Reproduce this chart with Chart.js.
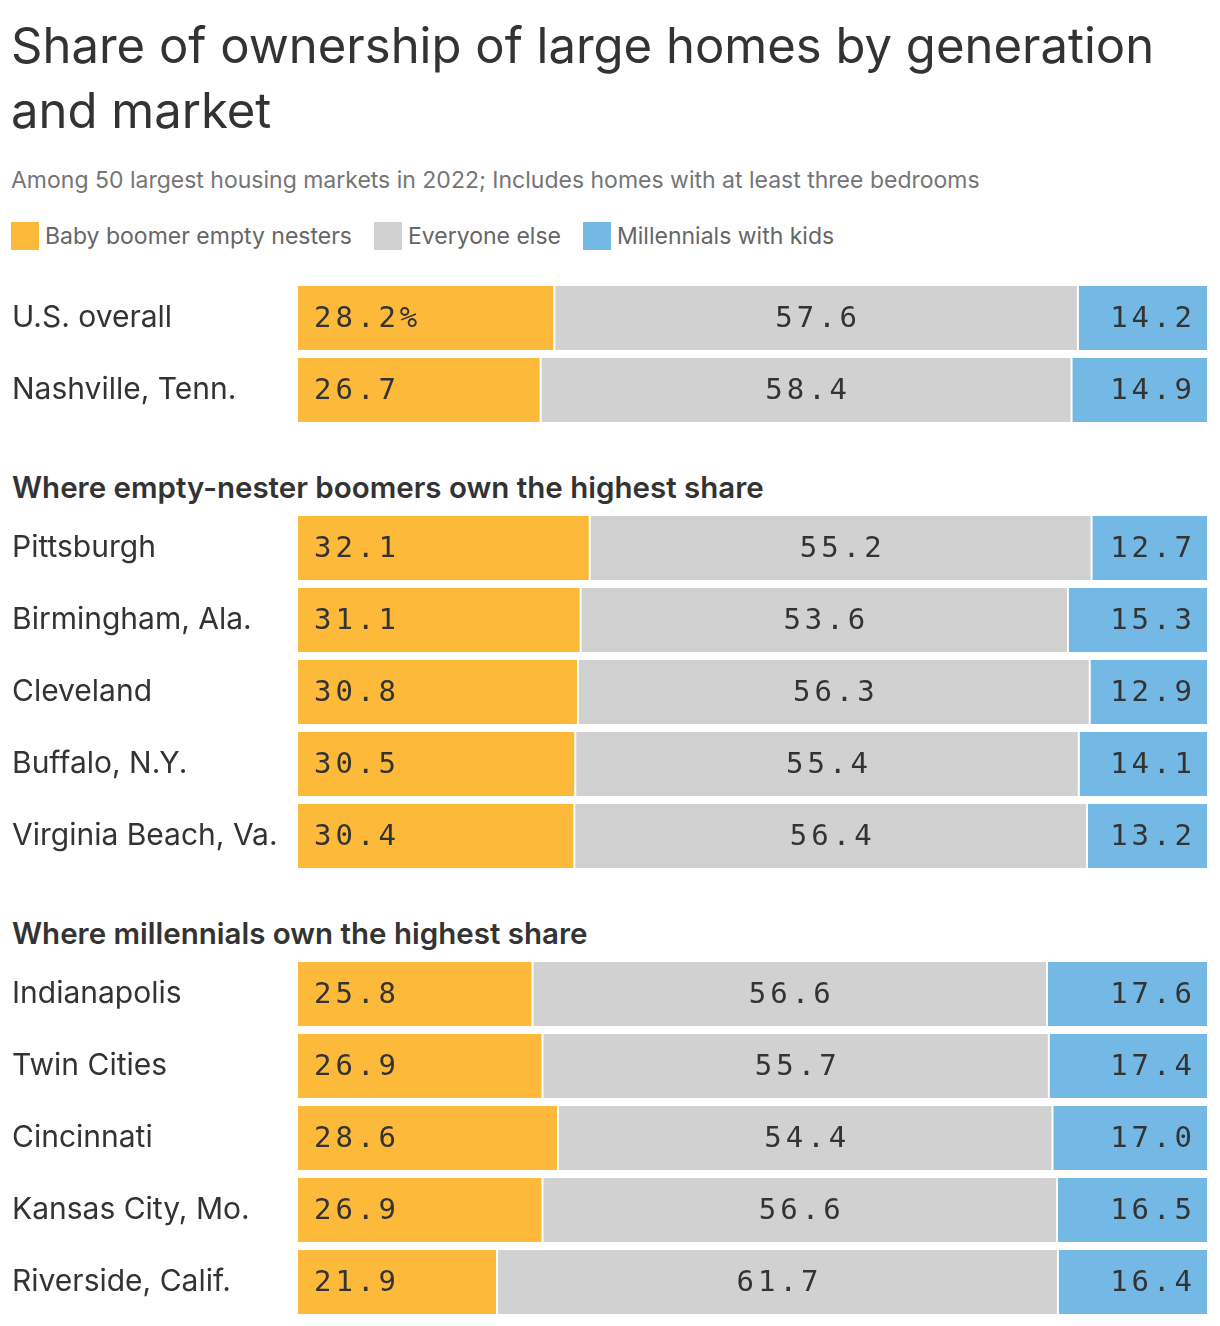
<!DOCTYPE html>
<html>
<head>
<meta charset="utf-8">
<script src="https://cdn.jsdelivr.net/npm/chart.js@4.4.0/dist/chart.umd.min.js"></script>
<style>
  body { margin: 0; background: #fff; font-family: Inter, "Liberation Sans", Arial, sans-serif; color: #333; }
  #page { position: relative; width: 1220px; height: 1326px; overflow: hidden; }
  h1 { position: absolute; left: 11px; top: 13px; margin: 0; width: 1190px; font-size: 49px; line-height: 65px; font-weight: normal; color: #333; }
  .sub { position: absolute; left: 11px; top: 166px; font-size: 23px; color: #757575; }
  .legend { position: absolute; left: 11px; top: 222px; display: flex; align-items: center; font-size: 23px; color: #666; }
  .legend span.sw { display: inline-block; width: 28px; height: 28px; margin-right: 6px; }
  .legend span.lb { margin-right: 22px; }
  .head { position: absolute; left: 12px; font-size: 29.5px; font-weight: 600; color: #333; }
  .box { position: absolute; left: 0; width: 1207px; }
</style>
</head>
<body>
<div id="page">
  <h1>Share of ownership of large homes by generation and market</h1>
  <div class="sub">Among 50 largest housing markets in 2022; Includes homes with at least three bedrooms</div>
  <div class="legend">
    <span class="sw" style="background:#fdb93a"></span><span class="lb">Baby boomer empty nesters</span>
    <span class="sw" style="background:#d0d1d0"></span><span class="lb">Everyone else</span>
    <span class="sw" style="background:#74b9e5"></span><span class="lb">Millennials with kids</span>
  </div>
  <div class="box" style="top:282px;height:144px"><canvas id="c1"></canvas></div>
  <div class="head" style="top:469px">Where empty-nester boomers own the highest share</div>
  <div class="box" style="top:512px;height:360px"><canvas id="c2"></canvas></div>
  <div class="head" style="top:915px">Where millennials own the highest share</div>
  <div class="box" style="top:958px;height:360px"><canvas id="c3"></canvas></div>
</div>
<script>
// data
const seriesNames = ['Baby boomer empty nesters', 'Everyone else', 'Millennials with kids'];
const seriesColors = ['#fdb93a', '#d0d1d0', '#74b9e5'];

const labelsTop = ['U.S. overall', 'Nashville, Tenn.'];
const boomersTop = [28.2, 26.7];
const othersTop = [57.6, 58.4];
const millennialsTop = [14.2, 14.9];

const labelsBoomer = ['Pittsburgh', 'Birmingham, Ala.', 'Cleveland', 'Buffalo, N.Y.', 'Virginia Beach, Va.'];
const boomersBoomer = [32.1, 31.1, 30.8, 30.5, 30.4];
const othersBoomer = [55.2, 53.6, 56.3, 55.4, 56.4];
const millennialsBoomer = [12.7, 15.3, 12.9, 14.1, 13.2];

const labelsMill = ['Indianapolis', 'Twin Cities', 'Cincinnati', 'Kansas City, Mo.', 'Riverside, Calif.'];
const boomersMill = [25.8, 26.9, 28.6, 26.9, 21.9];
const othersMill = [56.6, 55.7, 54.4, 56.6, 61.7];
const millennialsMill = [17.6, 17.4, 17.0, 16.5, 16.4];

// writes the numbers inside each segment
const valueLabels = {
    id: 'valueLabels',
    afterDatasetsDraw(chart, args, opts) {
        const ctx = chart.ctx;
        ctx.save();
        ctx.font = '29px "DejaVu Sans Mono", monospace';
        ctx.fillStyle = '#333';
        ctx.textBaseline = 'middle';
        if ('letterSpacing' in ctx) ctx.letterSpacing = '4px';
        chart.data.datasets.forEach((ds, i) => {
            const meta = chart.getDatasetMeta(i);
            meta.data.forEach((bar, j) => {
                let txt = ds.data[j].toFixed(1);
                if (opts.percentFirst && i === 0 && j === 0) txt += '%';
                const left = bar.base, right = bar.x, y = bar.y + 1;
                if (i === 0) {
                    ctx.textAlign = 'left';
                    ctx.fillText(txt, left + 16, y);
                } else if (i === 1) {
                    ctx.textAlign = 'center';
                    ctx.fillText(txt, (left + right) / 2 + 2, y);
                } else {
                    ctx.textAlign = 'right';
                    ctx.fillText(txt, right - 11, y);
                }
            });
        });
        ctx.restore();
    }
};

function makeChart(id, labels, boomers, others, millennials, percentFirst) {
    const ctx = document.getElementById(id).getContext('2d');
    new Chart(ctx, {
        type: 'bar',
        data: {
            labels: labels,
            datasets: [
                { label: seriesNames[0], data: boomers, backgroundColor: seriesColors[0],
                  borderColor: '#fff', borderWidth: { right: 1 }, borderSkipped: false },
                { label: seriesNames[1], data: others, backgroundColor: seriesColors[1],
                  borderColor: '#fff', borderWidth: { left: 1, right: 1 }, borderSkipped: false },
                { label: seriesNames[2], data: millennials, backgroundColor: seriesColors[2],
                  borderColor: '#fff', borderWidth: { left: 1 }, borderSkipped: false }
            ]
        },
        options: {
            indexAxis: 'y',
            responsive: true,
            maintainAspectRatio: false,
            animation: false,
            layout: { padding: { left: 12, right: 0, top: 0, bottom: 0 } },
            datasets: { bar: { barPercentage: 64 / 72, categoryPercentage: 1 } },
            plugins: {
                legend: { display: false },
                tooltip: { enabled: false },
                valueLabels: { percentFirst: percentFirst }
            },
            scales: {
                x: { stacked: true, min: 0, max: 100, display: false },
                y: {
                    stacked: true,
                    grid: { display: false },
                    border: { display: false },
                    afterFit: scale => {
                        scale.width = 286;
                        scale.paddingTop = 0;
                        scale.paddingBottom = 0;
                    },
                    ticks: {
                        crossAlign: 'far',
                        padding: 0,
                        color: '#333',
                        font: { family: 'Inter, "Liberation Sans", Arial, sans-serif', size: 30 }
                    }
                }
            }
        },
        plugins: [valueLabels]
    });
}

makeChart('c1', labelsTop, boomersTop, othersTop, millennialsTop, true);
makeChart('c2', labelsBoomer, boomersBoomer, othersBoomer, millennialsBoomer, false);
makeChart('c3', labelsMill, boomersMill, othersMill, millennialsMill, false);
</script>
</body>
</html>
